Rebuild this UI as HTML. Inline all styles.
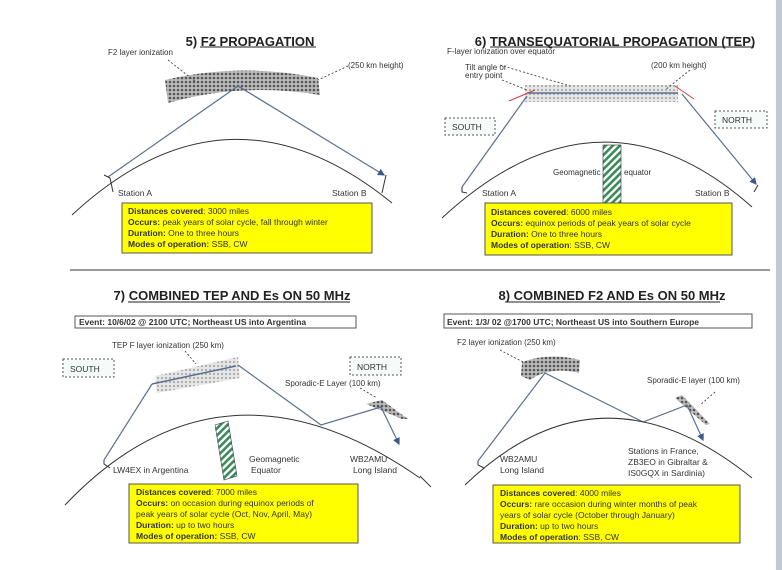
<!DOCTYPE html>
<html><head><meta charset="utf-8"><style>
html,body{margin:0;padding:0;background:#fff;}
svg{display:block;font-family:"Liberation Sans",sans-serif;}
.t{font-size:13px;font-weight:bold;fill:#222;}
.s{font-size:8px;fill:#333;}
.b{font-size:8.5px;fill:#333;}
.bb{font-weight:bold;}
.ray{stroke:#5a7090;stroke-width:1.2;fill:none;}
.earth{stroke:#333;stroke-width:1;fill:none;}
.dash{stroke:#444;stroke-width:0.9;stroke-dasharray:2,2;fill:none;}
</style></head><body>
<svg width="782" height="570" viewBox="0 0 782 570" xmlns="http://www.w3.org/2000/svg">
<defs>
<pattern id="blob" width="4" height="4" patternUnits="userSpaceOnUse"><rect width="4" height="4" fill="#bbb"/><circle cx="2" cy="2" r="1.3" fill="#555"/></pattern>
<pattern id="lite" width="4" height="4" patternUnits="userSpaceOnUse"><rect width="4" height="4" fill="#e6e6e6"/><circle cx="2" cy="2" r="1.1" fill="#aaa"/></pattern>
<pattern id="hatch" width="5" height="5" patternUnits="userSpaceOnUse" patternTransform="rotate(45)"><rect width="5" height="5" fill="#fff"/><rect width="2.6" height="5" fill="#3a8a5a"/></pattern>
<marker id="ar" markerWidth="6" markerHeight="6" refX="5" refY="3" orient="auto"><path d="M0,0L6,3L0,6z" fill="#3a5a8a"/></marker>
</defs>
<rect x="776" y="0" width="6" height="570" fill="#c0cad6"/>
<line x1="70" y1="270" x2="770" y2="270" stroke="#333" stroke-width="1"/>

<!-- Panel 5 -->
<text class="t" x="250" y="46" text-anchor="middle">5) F2 PROPAGATION</text>
<line x1="200" y1="47" x2="316" y2="47" stroke="#222"/>
<text class="s" x="108" y="55">F2 layer ionization</text>
<text class="s" x="348" y="68">(250 km height)</text>
<path d="M165,80 Q240,62 318,78 L320,95 Q240,82 168,103 Z" fill="url(#blob)"/>
<path class="dash" d="M168,60 L196,82"/><path class="dash" d="M348,66 L318,80"/>
<path class="ray" d="M108,177 L238,86 L384,175" marker-end="url(#ar)"/>
<path class="earth" d="M72,215 Q228,70 392,203"/>
<path class="earth" d="M104,175 L110,178 L113,192"/><path class="earth" d="M386,175 L382,193"/>
<text class="b" x="118" y="196">Station A</text><text class="b" x="332" y="196">Station B</text>
<rect x="122" y="203" width="250" height="50" fill="#ffff00" stroke="#555"/>
<text class="b" x="128" y="214"><tspan class="bb">Distances covered</tspan>: 3000 miles</text>
<text class="b" x="128" y="225"><tspan class="bb">Occurs:</tspan> peak years of solar cycle, fall through winter</text>
<text class="b" x="128" y="236"><tspan class="bb">Duration:</tspan> One to three hours</text>
<text class="b" x="128" y="247"><tspan class="bb">Modes of operation:</tspan> SSB, CW</text>

<!-- Panel 6 -->
<text class="t" x="615" y="46" text-anchor="middle">6) TRANSEQUATORIAL PROPAGATION (TEP)</text>
<line x1="490" y1="47" x2="754" y2="47" stroke="#222"/>
<text class="s" x="447" y="54">F-layer ionization over equator</text>
<text class="s" x="465" y="70" font-size="7">Tilt angle or</text>
<text class="s" x="465" y="78" font-size="7">entry point</text>
<text class="s" x="651" y="68">(200 km height)</text>
<rect x="525" y="85" width="153" height="17" fill="url(#lite)"/>
<path class="dash" d="M500,65 L570,86"/><path class="dash" d="M502,80 L527,90"/><path class="dash" d="M690,70 L665,90"/>
<path d="M509,101 L535,90 M675,86 L694,99" stroke="#d04040" stroke-width="1"/>
<line x1="527" y1="93" x2="678" y2="93" stroke="#5a7090" stroke-width="1.5"/>
<path class="ray" d="M462,187 L527,96"/><path class="ray" d="M682,94 L756,184" marker-end="url(#ar)"/>
<rect x="445" y="118" width="50" height="17" fill="#f4fbf8" stroke="#555" stroke-dasharray="2,2"/>
<text class="b" x="452" y="130">SOUTH</text>
<rect x="715" y="111" width="52" height="17" fill="#f4fbf8" stroke="#555" stroke-dasharray="2,2"/>
<text class="b" x="722" y="123">NORTH</text>
<path class="earth" d="M442,218 Q600,72 752,207"/>
<path class="earth" d="M462,187 L462,192 L467,193"/><path class="earth" d="M758,185 L754,192"/>
<rect x="603" y="145" width="18" height="60" fill="url(#hatch)" stroke="#333" stroke-width="0.6"/>
<text class="s" x="553" y="175">Geomagnetic</text><text class="s" x="624" y="175">equator</text>
<text class="b" x="482" y="196">Station A</text><text class="b" x="695" y="196">Station B</text>
<rect x="485" y="203" width="247" height="52" fill="#ffff00" stroke="#555"/>
<text class="b" x="491" y="215"><tspan class="bb">Distances covered</tspan>: 6000 miles</text>
<text class="b" x="491" y="226"><tspan class="bb">Occurs:</tspan> equinox periods of peak years of solar cycle</text>
<text class="b" x="491" y="237"><tspan class="bb">Duration:</tspan> One to three hours</text>
<text class="b" x="491" y="248"><tspan class="bb">Modes of operation</tspan>: SSB, CW</text>

<!-- Panel 7 -->
<text class="t" x="232" y="300" text-anchor="middle">7) COMBINED TEP AND Es ON 50 MHz</text>
<line x1="128" y1="302" x2="350" y2="302" stroke="#222"/>
<rect x="75" y="316" width="281" height="12" fill="#fff" stroke="#555"/>
<text class="b bb" x="79" y="325">Event: 10/6/02 @ 2100 UTC; Northeast US into Argentina</text>
<text class="s" x="112" y="348">TEP F layer ionization (250 km)</text>
<path class="dash" d="M185,351 L196,364"/>
<path d="M155,376 L238,357 L240,378 L157,393 Z" fill="url(#lite)"/>
<rect x="63" y="359" width="51" height="18" fill="#f4fbf8" stroke="#555" stroke-dasharray="2,2"/>
<text class="b" x="70" y="372">SOUTH</text>
<rect x="350" y="357" width="51" height="18" fill="#f4fbf8" stroke="#555" stroke-dasharray="2,2"/>
<text class="b" x="357" y="370">NORTH</text>
<text class="s" x="285" y="386">Sporadic-E Layer (100 km)</text>
<path class="dash" d="M360,388 L377,398"/>
<path d="M366,404 L382,400 L408,419 L402,419 Z" fill="url(#blob)"/>
<line x1="152" y1="384" x2="236" y2="366" stroke="#5a7090" stroke-width="1.5"/>
<path class="ray" d="M104,460 L152,384"/>
<path class="ray" d="M238,365 L321,425 L381,407 L399,444" marker-end="url(#ar)"/>
<path class="earth" d="M65,505 Q222,340 420,478"/>
<path class="earth" d="M104,460 L104,464 L110,468"/>
<path d="M215,425 L228,421 L237,476 L224,480 Z" fill="url(#hatch)" stroke="#333" stroke-width="0.6"/>
<text class="b" x="249" y="462">Geomagnetic</text><text class="b" x="251" y="473">Equator</text>
<text class="b" x="350" y="462">WB2AMU</text><text class="b" x="353" y="473">Long Island</text>
<text class="b" x="113" y="473">LW4EX in Argentina</text>
<rect x="129" y="484" width="229" height="59" fill="#ffff00" stroke="#555"/>
<text class="b" x="136" y="495"><tspan class="bb">Distances covered</tspan>: 7000 miles</text>
<text class="b" x="136" y="506"><tspan class="bb">Occurs:</tspan> on occasion during equinox periods of</text>
<text class="b" x="136" y="517">peak years of solar cycle (Oct, Nov, April, May)</text>
<text class="b" x="136" y="528"><tspan class="bb">Duration:</tspan> up to two hours</text>
<text class="b" x="136" y="539"><tspan class="bb">Modes of operation:</tspan> SSB, CW</text>

<!-- Panel 8 -->
<text class="t" x="612" y="300" text-anchor="middle">8) COMBINED F2 AND Es ON 50 MHz</text>
<line x1="505" y1="302" x2="720" y2="302" stroke="#222"/>
<rect x="444" y="314" width="308" height="14" fill="#fff" stroke="#555"/>
<text class="b bb" x="447" y="325">Event: 1/3/ 02 @1700 UTC; Northeast US into Southern Europe</text>
<text class="s" x="457" y="345">F2 layer ionization (250 km)</text>
<path class="dash" d="M500,350 L525,363"/>
<path d="M522,362 Q550,352 580,360 L579,373 Q550,366 530,380 L521,376 Z" fill="url(#blob)"/>
<text class="s" x="647" y="383">Sporadic-E layer (100 km)</text>
<path class="dash" d="M715,392 L700,405"/>
<path d="M675,398 L682,395 L710,424 L706,425 Z" fill="url(#blob)"/>
<path class="ray" d="M478,461 L545,373 L643,422 L687,405 L703,440" marker-end="url(#ar)"/>
<path class="earth" d="M465,485 Q600,355 752,478"/>
<path class="earth" d="M420,476 L431,487"/>
<path class="earth" d="M478,461 L478,465 L484,468"/>
<text class="b" x="500" y="462">WB2AMU</text><text class="b" x="500" y="473">Long Island</text>
<text class="b" x="628" y="454">Stations in France,</text>
<text class="b" x="628" y="465">ZB3EO in Gibraltar &amp;</text>
<text class="b" x="628" y="476">IS0GQX in Sardinia)</text>
<rect x="493" y="485" width="247" height="58" fill="#ffff00" stroke="#555"/>
<text class="b" x="500" y="496"><tspan class="bb">Distances covered</tspan>: 4000 miles</text>
<text class="b" x="500" y="507"><tspan class="bb">Occurs:</tspan>  rare occasion during winter months of peak</text>
<text class="b" x="500" y="518">years of solar cycle (October through January)</text>
<text class="b" x="500" y="529"><tspan class="bb">Duration:</tspan> up to two hours</text>
<text class="b" x="500" y="540"><tspan class="bb">Modes of operation</tspan>: SSB, CW</text>
</svg>
</body></html>
